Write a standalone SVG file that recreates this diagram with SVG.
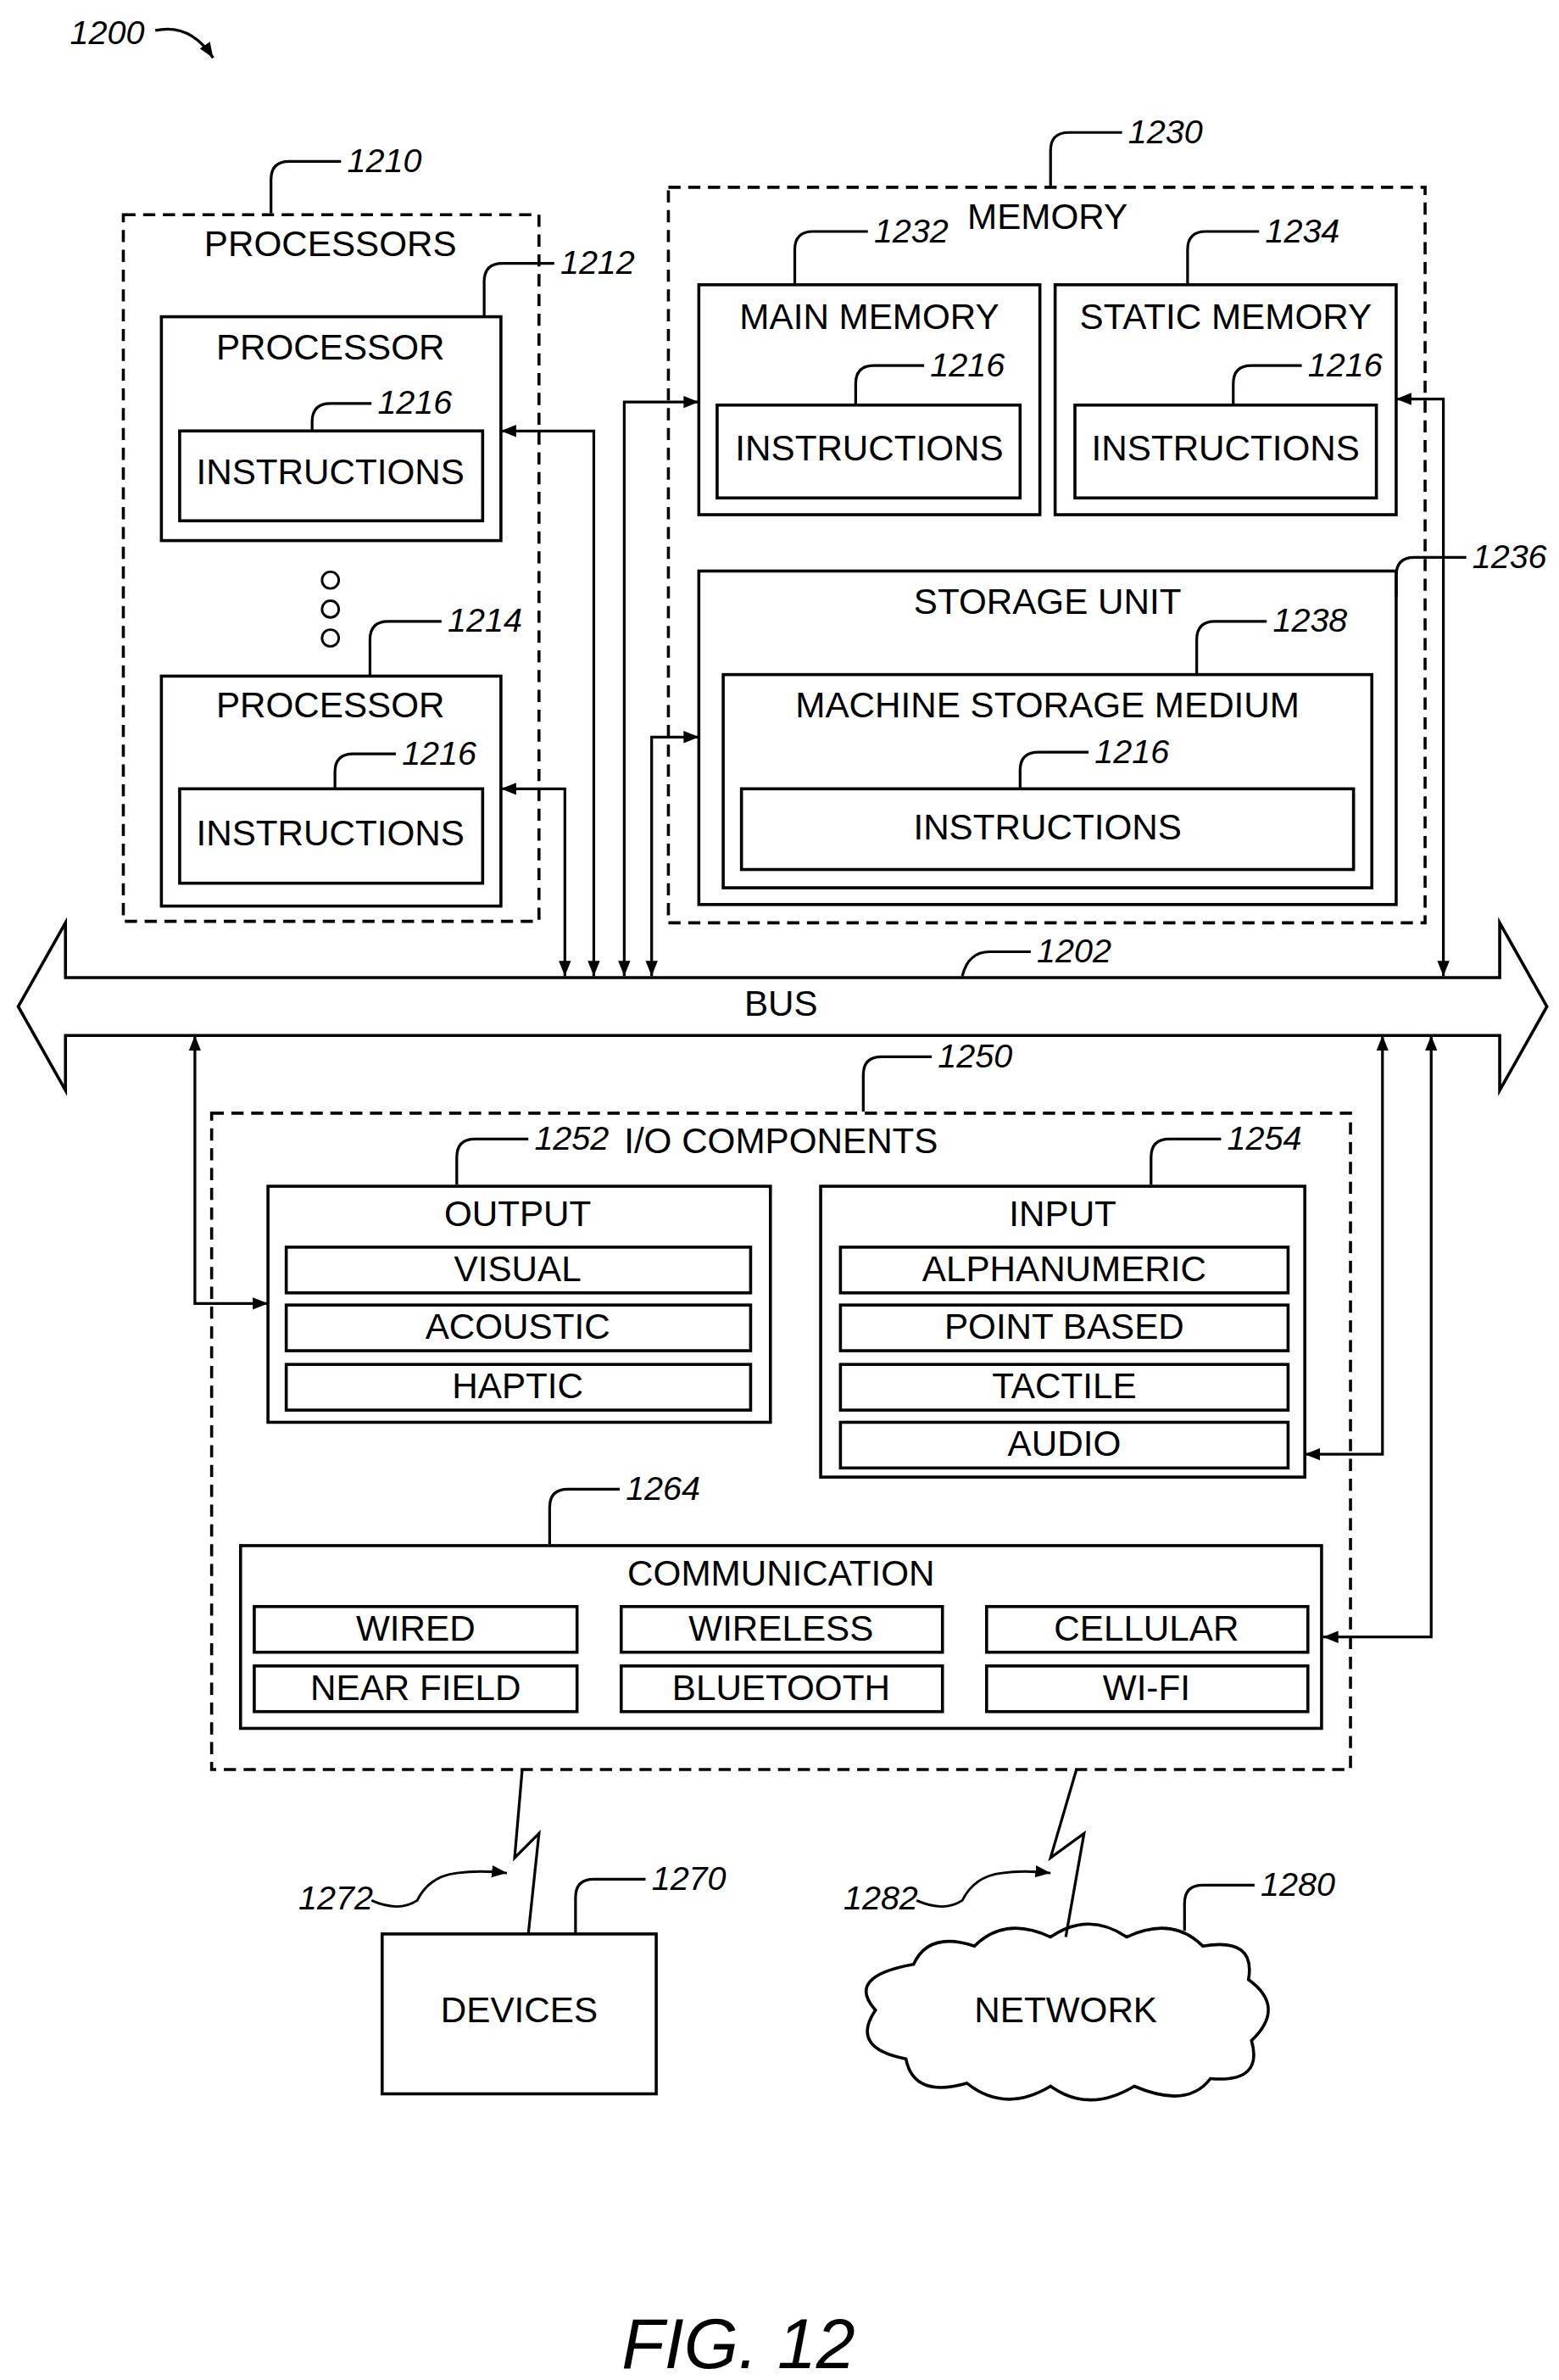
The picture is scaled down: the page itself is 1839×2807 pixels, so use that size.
<svg xmlns="http://www.w3.org/2000/svg" width="1839" height="2807" viewBox="0 0 1839 2807">
<style>
.b{fill:none;stroke:#000;stroke-width:2}
.d{fill:none;stroke:#000;stroke-width:2;stroke-dasharray:8 5}
.l{fill:none;stroke:#000;stroke-width:1.8}
.c{fill:none;stroke:#000;stroke-width:1.6}
.t{font-family:"Liberation Sans",Arial,sans-serif;font-size:23.5px;text-anchor:middle;dominant-baseline:middle}
.n{font-family:"Liberation Sans",Arial,sans-serif;font-size:22px;font-style:italic}
</style>
<defs>
<marker id="a" viewBox="0 0 10 10" refX="10" refY="5" markerWidth="10" markerHeight="10" markerUnits="userSpaceOnUse" orient="auto-start-reverse"><path d="M0,1 L10,5 L0,9 Z" fill="#000"/></marker>
</defs>
<rect width="1839" height="2807" fill="#fff"/>
<g transform="scale(1.796)">
<g id="fig-label">
<text class="n" x="46" y="29">1200</text>
<path class="l" d="M102 20 Q125 15 140 38" marker-end="url(#a)"/>
<text x="485" y="1555" font-family="Liberation Sans,Arial,sans-serif" font-size="46" font-style="italic" text-anchor="middle">FIG. 12</text>
</g>
<g id="processors">
<rect class="d" x="81" y="141" width="273" height="464"/>
<text class="t" x="217" y="162">PROCESSORS</text>
<path class="l" d="M178 140 V118 Q178 106 190 106 H224"/><text class="n" x="228" y="113">1210</text>
</g>
<g id="processor1">
<rect class="b" x="106" y="208" width="223" height="147"/>
<text class="t" x="217" y="230">PROCESSOR</text>
<rect class="b" x="118" y="283" width="199" height="59"/>
<text class="t" x="217" y="312">INSTRUCTIONS</text>
<path class="l" d="M205 283 V277 Q205 265 217 265 H244"/><text class="n" x="248" y="272">1216</text>
<path class="l" d="M318 208 V185 Q318 173 330 173 H364"/><text class="n" x="368" y="180">1212</text>
</g>
<g id="dots"><circle class="c" cx="217" cy="381" r="5.5"/><circle class="c" cx="217" cy="400" r="5.5"/><circle class="c" cx="217" cy="419" r="5.5"/></g>
<g id="processor2">
<rect class="b" x="106" y="444" width="223" height="151"/>
<text class="t" x="217" y="465">PROCESSOR</text>
<rect class="b" x="118" y="518" width="199" height="62"/>
<text class="t" x="217" y="549">INSTRUCTIONS</text>
<path class="l" d="M220 518 V507 Q220 495 232 495 H260"/><text class="n" x="264" y="502">1216</text>
<path class="l" d="M243 444 V420 Q243 408 255 408 H290"/><text class="n" x="294" y="415">1214</text>
</g>
<g id="memory">
<rect class="d" x="439" y="123" width="497" height="483"/>
<text class="t" x="688" y="144">MEMORY</text>
<path class="l" d="M690 122 V99 Q690 87 702 87 H737"/><text class="n" x="741" y="94">1230</text>
</g>
<g id="main-memory">
<rect class="b" x="459" y="187" width="224" height="151"/>
<text class="t" x="571" y="210">MAIN MEMORY</text>
<rect class="b" x="471" y="266" width="199" height="61"/>
<text class="t" x="571" y="296">INSTRUCTIONS</text>
<path class="l" d="M522 187 V164 Q522 152 534 152 H570"/><text class="n" x="574" y="159">1232</text>
<path class="l" d="M562 266 V252 Q562 240 574 240 H607"/><text class="n" x="611" y="247">1216</text>
</g>
<g id="static-memory">
<rect class="b" x="693" y="187" width="224" height="151"/>
<text class="t" x="805" y="210">STATIC MEMORY</text>
<rect class="b" x="706" y="266" width="198" height="61"/>
<text class="t" x="805" y="296">INSTRUCTIONS</text>
<path class="l" d="M780 187 V164 Q780 152 792 152 H827"/><text class="n" x="831" y="159">1234</text>
<path class="l" d="M810 266 V252 Q810 240 822 240 H855"/><text class="n" x="859" y="247">1216</text>
</g>
<g id="storage-unit">
<rect class="b" x="459" y="375" width="458" height="219"/>
<text class="t" x="688" y="397">STORAGE UNIT</text>
<path class="l" d="M917 392 V378 Q917 366 929 366 H963"/><text class="n" x="967" y="373">1236</text>
<rect class="b" x="475" y="443" width="426" height="140"/>
<text class="t" x="688" y="465">MACHINE STORAGE MEDIUM</text>
<path class="l" d="M786 443 V420 Q786 408 798 408 H832"/><text class="n" x="836" y="415">1238</text>
<rect class="b" x="487" y="518" width="402" height="53"/>
<text class="t" x="688" y="545">INSTRUCTIONS</text>
<path class="l" d="M670 518 V506 Q670 494 682 494 H715"/><text class="n" x="719" y="501">1216</text>
</g>
<g id="bus">
<path class="b" d="M12 661 L43 606 V642 H985 V606 L1016 661 L985 716 V680 H43 V716 Z" fill="#fff"/>
<text class="t" x="513" y="661">BUS</text>
<path class="l" d="M632 641 Q636 625 650 625 H677"/><text class="n" x="681" y="632">1202</text>
</g>
<g id="io">
<rect class="d" x="139" y="731" width="748" height="431"/>
<text class="t" x="513" y="751">I/O COMPONENTS</text>
<path class="l" d="M567 730 V706 Q567 694 579 694 H612"/><text class="n" x="616" y="701">1250</text>
</g>
<g id="output">
<rect class="b" x="176" y="779" width="330" height="155"/>
<text class="t" x="340" y="799">OUTPUT</text>
<path class="l" d="M300 778 V760 Q300 748 312 748 H347"/><text class="n" x="351" y="755">1252</text>
<rect class="b" x="188" y="819" width="305" height="30"/><text class="t" x="340" y="835">VISUAL</text>
<rect class="b" x="188" y="857" width="305" height="30"/><text class="t" x="340" y="873">ACOUSTIC</text>
<rect class="b" x="188" y="896" width="305" height="30"/><text class="t" x="340" y="912">HAPTIC</text>
</g>
<g id="input">
<rect class="b" x="539" y="779" width="318" height="191"/>
<text class="t" x="698" y="799">INPUT</text>
<path class="l" d="M756 778 V760 Q756 748 768 748 H802"/><text class="n" x="806" y="755">1254</text>
<rect class="b" x="552" y="819" width="294" height="30"/><text class="t" x="699" y="835">ALPHANUMERIC</text>
<rect class="b" x="552" y="857" width="294" height="30"/><text class="t" x="699" y="873">POINT BASED</text>
<rect class="b" x="552" y="896" width="294" height="30"/><text class="t" x="699" y="912">TACTILE</text>
<rect class="b" x="552" y="934" width="294" height="30"/><text class="t" x="699" y="950">AUDIO</text>
</g>
<g id="communication">
<rect class="b" x="158" y="1015" width="710" height="120"/>
<text class="t" x="513" y="1035">COMMUNICATION</text>
<path class="l" d="M361 1014 V990 Q361 978 373 978 H407"/><text class="n" x="411" y="985">1264</text>
<rect class="b" x="167" y="1055" width="212" height="30"/><text class="t" x="273" y="1071">WIRED</text>
<rect class="b" x="408" y="1055" width="211" height="30"/><text class="t" x="513" y="1071">WIRELESS</text>
<rect class="b" x="648" y="1055" width="211" height="30"/><text class="t" x="753" y="1071">CELLULAR</text>
<rect class="b" x="167" y="1094" width="212" height="30"/><text class="t" x="273" y="1110">NEAR FIELD</text>
<rect class="b" x="408" y="1094" width="211" height="30"/><text class="t" x="513" y="1110">BLUETOOTH</text>
<rect class="b" x="648" y="1094" width="211" height="30"/><text class="t" x="753" y="1110">WI-FI</text>
</g>
<g id="devices">
<rect class="b" x="251" y="1270" width="180" height="105"/>
<text class="t" x="341" y="1322">DEVICES</text>
<path class="l" d="M378 1270 V1246 Q378 1234 390 1234 H424"/><text class="n" x="428" y="1241">1270</text>
<text class="n" x="196" y="1254">1272</text>
</g>
<g id="network">
<path class="b" d="M600 1290 Q610 1268 640 1278 Q660 1258 690 1272 Q715 1255 740 1272 Q770 1258 790 1278 Q825 1272 820 1300 Q845 1318 822 1340 Q830 1368 795 1365 Q780 1385 745 1370 Q715 1388 690 1370 Q660 1388 635 1368 Q600 1378 595 1352 Q558 1345 575 1320 Q555 1298 600 1290 Z"/>
<text class="t" x="700" y="1322">NETWORK</text>
<path class="l" d="M778 1268 V1250 Q778 1238 790 1238 H824"/><text class="n" x="828" y="1245">1280</text>
<text class="n" x="554" y="1254">1282</text>
</g>
<g id="connectors">
<path class="l" d="M329 283 H390 V641" marker-start="url(#a)" marker-end="url(#a)"/>
<path class="l" d="M329 518 H371 V641" marker-start="url(#a)" marker-end="url(#a)"/>
<path class="l" d="M459 264 H410 V641" marker-start="url(#a)" marker-end="url(#a)"/>
<path class="l" d="M459 484 H428 V641" marker-start="url(#a)" marker-end="url(#a)"/>
<path class="l" d="M917 262 H948 V641" marker-start="url(#a)" marker-end="url(#a)"/>
<path class="l" d="M128 680 V856 H176" marker-start="url(#a)" marker-end="url(#a)"/>
<path class="l" d="M857 955 H908 V680" marker-start="url(#a)" marker-end="url(#a)"/>
<path class="l" d="M869 1075 H940 V680" marker-start="url(#a)" marker-end="url(#a)"/>
<path class="l" d="M343 1162 L338 1220 L354 1204 L347 1270"/>
<path class="l" d="M707 1162 L690 1220 L712 1204 L700 1272"/>
<path class="c" d="M244 1248 Q262 1256 274 1248 Q282 1232 300 1230 Q315 1228 333 1230" marker-end="url(#a)"/>
<path class="c" d="M602 1248 Q620 1256 632 1248 Q640 1232 658 1230 Q672 1228 690 1230" marker-end="url(#a)"/>
</g>
</g>
</svg>
